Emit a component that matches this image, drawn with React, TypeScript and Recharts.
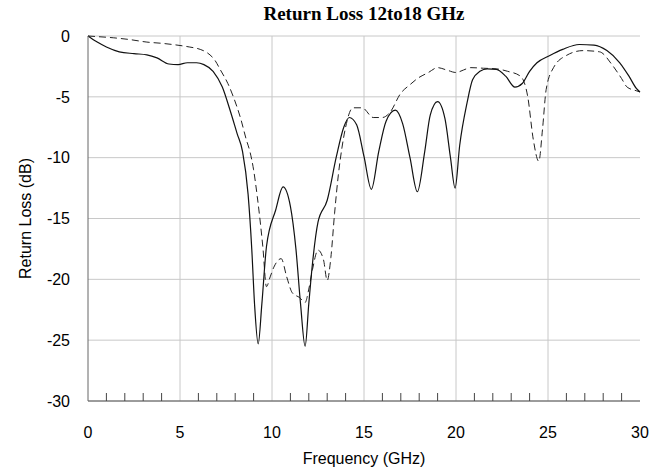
import React from 'react';
import {
  CartesianGrid,
  Line,
  LineChart,
  ReferenceLine,
  XAxis,
  YAxis,
} from 'recharts';

// measured (solid) curve
const solidFreq = [
  0, 0.5, 1, 1.7, 2.5, 3.2, 3.75, 4.4, 4.9, 5.4, 5.9, 6.3, 6.8, 7.3, 7.7, 8.1, 8.4,
  8.7, 8.9, 9.05, 9.25, 9.45, 9.7, 10.2, 10.6, 11.0, 11.3, 11.55, 11.8, 12.0, 12.2,
  12.5, 13.0, 13.5, 13.9, 14.2, 14.6, 15.0, 15.4, 15.8, 16.2, 16.7, 17.1, 17.5, 17.9,
  18.3, 18.6, 19.0, 19.4, 19.7, 19.95, 20.2, 20.6, 20.9, 21.3, 21.7, 22.2, 22.7, 23.2,
  23.6, 24.0, 24.4, 25.1, 25.8, 26.7, 27.5, 28.2, 28.9, 29.4, 29.8, 30,
];
const solidLoss = [
  0, -0.5, -0.9, -1.3, -1.45, -1.55, -1.8, -2.3, -2.35, -2.2, -2.2, -2.35, -2.9, -4.2,
  -6.0, -8.0, -9.5, -13.0, -17.5, -22, -25.3, -22, -17.3, -14.3, -12.4, -14.0, -17.5,
  -22, -25.5, -22, -18.7, -15.3, -13.5, -9.9, -7.5, -6.7, -7.3, -9.9, -12.6, -9.5,
  -7.0, -6.1, -7.2, -10, -12.8, -9.5, -6.5, -5.4, -6.8, -10, -12.5, -9, -5.5, -3.6,
  -2.9, -2.7, -2.75, -3.3, -4.2, -3.9, -2.9, -2.2, -1.6, -1.1, -0.7, -0.75, -1.2, -2.2,
  -3.3, -4.3, -4.6,
];

// simulated (dashed) curve
const dashFreq = [
  0, 0.5, 1.4, 2.3, 3.2, 4.0, 4.6, 5.5, 6.1, 6.5, 6.9, 7.2, 7.6, 7.9, 8.3, 8.6, 8.8,
  9.0, 9.2, 9.5, 9.7, 9.9, 10.1, 10.5, 10.8, 11.1, 11.5, 11.8, 12.0, 12.2, 12.5, 12.8,
  13.0, 13.2, 13.4, 13.6, 13.8, 14.0, 14.4, 14.9, 15.5, 16.0, 16.4, 17.0, 17.5, 17.9,
  18.5, 19.0, 19.5, 20.0, 20.4, 20.8, 21.5, 22.2, 22.8, 23.5, 23.9, 24.2, 24.5, 24.7,
  24.9, 25.3, 26.0, 26.9, 27.8, 28.5, 29.0, 29.3, 29.8, 30,
];
const dashLoss = [
  0, -0.05, -0.15, -0.3, -0.5, -0.6, -0.7, -0.9, -1.1, -1.4, -2.0, -2.8, -3.9, -5.0,
  -6.8, -8.5, -9.5, -11.0, -13.2, -17.3, -20.6, -19.8, -19.0, -18.3, -19.8, -21.1,
  -21.5, -21.9, -20.8, -19.2, -17.6, -18.4, -20.1, -18.2, -14.6, -11.5, -9.2, -7.5,
  -5.9, -5.9, -6.7, -6.7, -6.3, -4.7, -4.0, -3.5, -3.0, -2.6, -2.8, -3.0, -2.8, -2.6,
  -2.65, -2.7, -2.9, -3.3, -5.0, -8.5, -10.3, -7.7, -4.4, -2.6, -1.6, -1.2, -1.3,
  -2.4, -3.5, -4.2, -4.5, -4.6,
];

const freqTicks = Array.from({ length: 31 }, (_, i) => i);
const lossTicks = [0, -5, -10, -15, -20, -25, -30];
const gridFreqs = [5, 10, 15, 20, 25];

const solidData = solidFreq.map((f, i) => ({ f, loss: solidLoss[i] }));
const dashData = dashFreq.map((f, i) => ({ f, loss: dashLoss[i] }));

const FONT = '"Liberation Sans", Arial, sans-serif';

function FreqTick(props: any) {
  const { x, y, payload } = props;
  const v = payload.value;
  if (v % 5 === 0) {
    return (
      <text x={x} y={y + 37} textAnchor="middle" fontSize={16} fontFamily={FONT} fill="#000">
        {v}
      </text>
    );
  }
  return <line x1={x} x2={x} y1={y} y2={y - 8} stroke="#444" strokeWidth={1} />;
}

export default function App() {
  return (
    <div style={{ position: 'absolute', left: 0, top: 0, width: 664, height: 471, background: '#fff' }}>
      <div
        style={{
          position: 'absolute',
          left: 88,
          width: 552,
          top: 3,
          textAlign: 'center',
          fontFamily: '"Liberation Serif", "Times New Roman", serif',
          fontWeight: 'bold',
          fontSize: 19,
          color: '#000',
        }}
      >
        Return Loss 12to18 GHz
      </div>
      <LineChart width={664} height={471} margin={{ top: 36, right: 24, bottom: 0, left: 0 }}>
        <CartesianGrid vertical={false} stroke="#c8c8c8" />
        {gridFreqs.map((g) => (
          <ReferenceLine key={g} x={g} stroke="#c8c8c8" />
        ))}
        <XAxis
          dataKey="f"
          type="number"
          domain={[0, 30]}
          ticks={freqTicks}
          interval={0}
          height={70}
          tickSize={0}
          tickMargin={0}
          tickLine={false}
          tick={<FreqTick />}
          axisLine={{ stroke: '#555' }}
          label={{
            value: 'Frequency (GHz)',
            position: 'insideBottom',
            offset: 7,
            fontSize: 16,
            fontFamily: FONT,
            fill: '#000',
          }}
        />
        <XAxis
          xAxisId="top"
          orientation="top"
          type="number"
          domain={[0, 30]}
          height={0}
          tick={false}
          tickLine={false}
          axisLine={{ stroke: '#555' }}
        />
        <YAxis
          type="number"
          domain={[-30, 0]}
          ticks={lossTicks}
          interval={0}
          width={88}
          tickSize={0}
          tickMargin={18}
          tickLine={false}
          axisLine={{ stroke: '#666' }}
          tick={{ fontSize: 16, fontFamily: FONT, fill: '#000' }}
          label={{
            value: 'Return Loss (dB)',
            angle: -90,
            position: 'insideLeft',
            offset: 25,
            fontSize: 16,
            fontFamily: FONT,
            fill: '#000',
            style: { textAnchor: 'middle' },
          }}
        />
        <YAxis
          yAxisId="right"
          orientation="right"
          type="number"
          domain={[-30, 0]}
          width={0}
          tick={false}
          tickLine={false}
          axisLine={{ stroke: '#555' }}
        />
        <Line
          data={dashData}
          dataKey="loss"
          type="monotone"
          stroke="#222"
          strokeWidth={1}
          strokeDasharray="7 4"
          dot={false}
          isAnimationActive={false}
        />
        <Line
          data={solidData}
          dataKey="loss"
          type="monotone"
          stroke="#111"
          strokeWidth={1.2}
          dot={false}
          isAnimationActive={false}
        />
      </LineChart>
    </div>
  );
}
